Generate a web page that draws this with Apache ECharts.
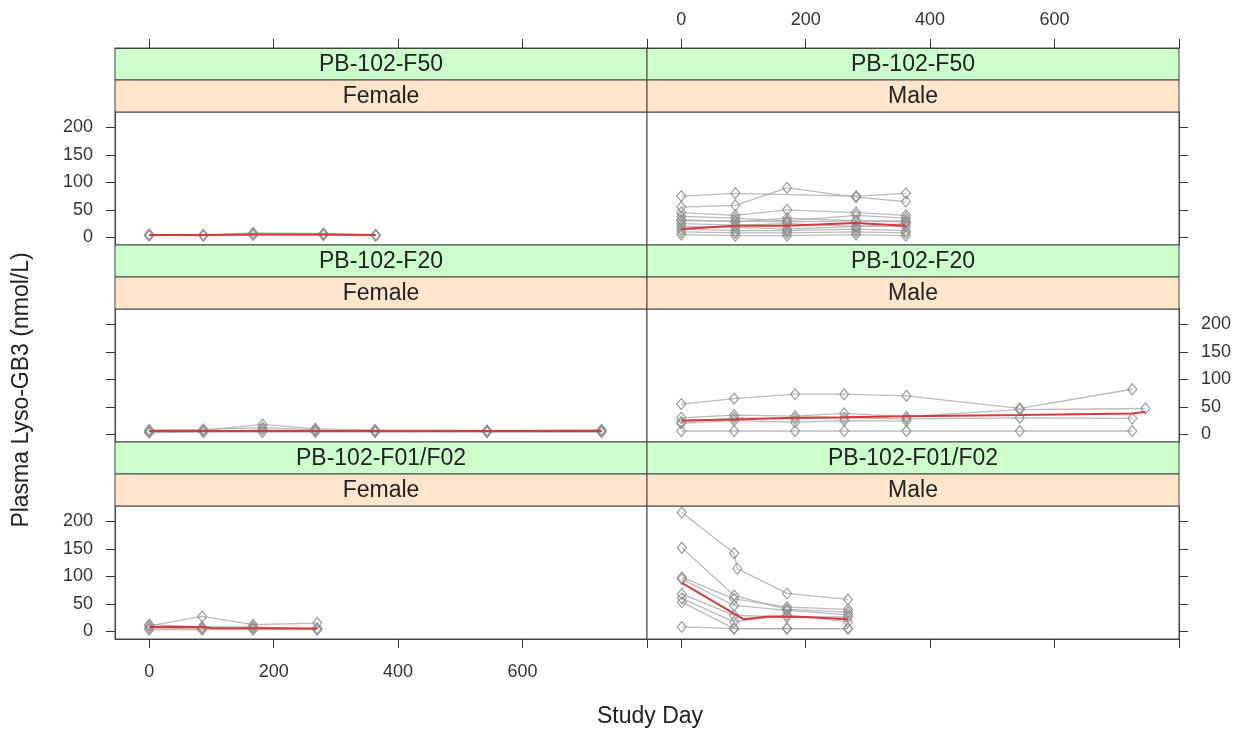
<!DOCTYPE html>
<html lang="en">
<head>
    <meta charset="UTF-8">
    <script src="https://cdn.jsdelivr.net/npm/echarts@6/dist/echarts.min.js"></script>
    <title>Plasma Lyso-GB3 by study and sex</title>
</head>
<body style="margin:0;background:#fff;">
<div id="main" style="width:1243px;height:736px;"></div>
<script type="text/javascript">
    // ---- data: [study day, value] per subject, plus the red mean line ----
    var f50Female = [
        [[0,5],[87,4],[167,8],[280,7],[364,4]],
        [[0,3],[87,4],[167,6],[280,5],[364,4]],
        [[0,4],[87,3],[167,4],[280,4],[364,3]]
    ];
    var f50FemaleMean = [[0,4],[87,4],[167,5],[280,5],[364,4]];

    var f50Male = [
        [[0,75],[87,80],[281,75],[361,80]],
        [[0,55],[87,58],[170,90],[281,73],[361,65]],
        [[0,45],[87,40],[170,50],[281,45],[361,40]],
        [[0,38],[87,35],[170,30],[281,40],[361,35]],
        [[0,32],[87,28],[170,35],[281,30],[361,28]],
        [[0,30],[87,30],[170,28],[281,30],[361,30]],
        [[0,25],[87,22],[170,25],[281,20],[361,25]],
        [[0,20],[87,18],[170,15],[281,20],[361,20]],
        [[0,15],[87,12],[170,12],[281,15],[361,12]],
        [[0,10],[87,8],[170,8],[281,10],[361,8]],
        [[0,5],[87,3],[170,3],[281,5],[361,3]]
    ];
    var f50MaleMean = [[0,15],[87,21],[170,21],[281,26],[361,21]];

    var f20Female = [
        [[0,6],[87,7],[182,18],[267,10],[363,8],[543,7],[727,7]],
        [[0,4],[87,5],[182,8],[267,6],[363,6],[543,5],[727,5]],
        [[0,3],[87,4],[182,4],[267,4],[363,4],[543,4],[727,4]],
        [[0,8],[87,9],[182,12],[267,8],[363,5],[543,6],[727,8]]
    ];
    var f20FemaleMean = [[0,6],[87,6],[182,6],[267,6],[363,6],[543,6],[727,6]];

    var f20Male = [
        [[0,55],[85,65],[183,73],[262,73],[362,70],[544,47],[725,82]],
        [[0,30],[85,35],[183,33],[262,38],[362,32],[544,45],[746,47]],
        [[0,22],[85,30],[183,28],[262,30],[362,28],[544,30],[725,29]],
        [[0,20],[85,25],[183,22],[262,25],[362,24]],
        [[0,6],[85,6],[183,6],[262,6],[362,6],[544,6],[725,6]]
    ];
    var f20MaleMean = [[0,25],[85,27],[183,30],[262,31],[362,33],[544,35],[725,38],[746,41]];

    var f01Female = [
        [[0,10],[85,27],[167,12],[270,15]],
        [[0,6],[85,5],[167,6],[270,5]],
        [[0,12],[85,8],[167,8],[270,4]],
        [[0,3],[85,3],[167,3],[270,3]]
    ];
    var f01FemaleMean = [[0,8],[85,8],[100,6],[270,5]];

    var f01Male = [
        [[1,216],[85,142],[90,114],[170,69],[268,58]],
        [[1,152],[85,65],[170,40],[268,35]],
        [[1,98],[85,59],[170,44],[268,40]],
        [[1,95],[85,47],[170,38],[268,30]],
        [[1,68],[85,29],[170,26],[268,26]],
        [[1,60],[85,17],[170,30],[268,17]],
        [[1,53],[85,5],[170,5],[268,5]],
        [[1,8],[85,5],[170,5],[268,5]]
    ];
    var f01MaleMean = [[1,88],[100,22],[140,27],[200,26],[268,22]];

    var studies = ['PB-102-F50', 'PB-102-F20', 'PB-102-F01/F02'];
    var sexes = ['Female', 'Male'];
    var subjectData = [[f50Female, f50Male], [f20Female, f20Male], [f01Female, f01Male]];
    var meanData = [[f50FemaleMean, f50MaleMean], [f20FemaleMean, f20MaleMean], [f01FemaleMean, f01MaleMean]];
    var xTicks = [0, 200, 400, 600, 800];
    var xLabels = [0, 200, 400, 600];
    var yTicks = [0, 50, 100, 150, 200];

    // ---- layout ----
    var colLeft = [115, 647];
    var panelW = 532;
    var rowTop = [112, 309, 506];
    var panelH = 133;
    var stripH = 32;
    var font = '"Liberation Sans", Arial, sans-serif';
    var lineCol = '#444';

    var chart = echarts.init(document.getElementById('main'));
    var grids = [], xAxes = [], yAxes = [], series = [], graphics = [];

    for (var r = 0; r < 3; r++) {
        for (var c = 0; c < 2; c++) {
            var g = grids.length;
            grids.push({left: colLeft[c], top: rowTop[r], width: panelW, height: panelH,
                show: true, borderColor: lineCol, borderWidth: 1, backgroundColor: '#fff'});

            var xi = xAxes.length;
            xAxes.push({
                type: 'value', gridIndex: g, position: 'bottom', min: -55, max: 800,
                show: r === 2,
                axisLine: {show: true, onZero: false, lineStyle: {color: lineCol}},
                axisTick: {show: true, length: 9, customValues: xTicks, lineStyle: {color: '#333'}},
                axisLabel: {show: c === 0, customValues: xLabels, margin: 24,
                    fontFamily: font, fontSize: 18, color: '#333'},
                splitLine: {show: false}
            });
            if (r === 0) {
                xAxes.push({
                    type: 'value', gridIndex: g, position: 'top', offset: stripH * 2, min: -55, max: 800,
                    axisLine: {show: true, onZero: false, lineStyle: {color: lineCol}},
                    axisTick: {show: true, length: 9, customValues: xTicks, lineStyle: {color: '#333'}},
                    axisLabel: {show: c === 1, customValues: xLabels, margin: 19,
                        fontFamily: font, fontSize: 18, color: '#333'},
                    splitLine: {show: false}
                });
            }
            var yi = yAxes.length;
            yAxes.push({
                type: 'value', gridIndex: g, position: c === 0 ? 'left' : 'right', min: -14, max: 228,
                axisLine: {show: true, onZero: false, lineStyle: {color: lineCol}},
                axisTick: {show: true, length: 9, customValues: yTicks, lineStyle: {color: '#333'}},
                axisLabel: {show: (c === 0 && r !== 1) || (c === 1 && r === 1), customValues: yTicks,
                    margin: 22, fontFamily: font, fontSize: 18, color: '#333'},
                splitLine: {show: false}
            });

            subjectData[r][c].forEach(function (pts) {
                series.push({
                    type: 'line', xAxisIndex: xi, yAxisIndex: yi, data: pts,
                    symbol: 'diamond', symbolSize: [9, 11], showSymbol: true,
                    lineStyle: {color: 'rgba(170,170,170,0.8)', width: 1.3},
                    itemStyle: {color: 'rgba(255,255,255,0)', borderColor: 'rgba(140,140,140,0.85)', borderWidth: 1.2},
                    emphasis: {disabled: true}, z: 2
                });
            });
            series.push({
                type: 'line', xAxisIndex: xi, yAxisIndex: yi, data: meanData[r][c],
                symbol: 'none', lineStyle: {color: '#d43a3a', width: 2},
                emphasis: {disabled: true}, z: 3
            });

            // strips: study on top (green), sex below (orange)
            var sTop = rowTop[r] - stripH * 2;
            graphics.push({type: 'rect', shape: {x: colLeft[c], y: sTop, width: panelW, height: stripH},
                style: {fill: '#ccffcc', stroke: lineCol, lineWidth: 1}});
            graphics.push({type: 'text', x: colLeft[c] + panelW / 2, y: sTop + stripH / 2 + 1,
                style: {text: studies[r], fill: '#222', font: '23px ' + font, textAlign: 'center', textVerticalAlign: 'middle'}});
            graphics.push({type: 'rect', shape: {x: colLeft[c], y: sTop + stripH, width: panelW, height: stripH},
                style: {fill: '#ffe5cc', stroke: lineCol, lineWidth: 1}});
            graphics.push({type: 'text', x: colLeft[c] + panelW / 2, y: sTop + stripH * 1.5 + 1,
                style: {text: sexes[c], fill: '#222', font: '23px ' + font, textAlign: 'center', textVerticalAlign: 'middle'}});
        }
    }

    graphics.push({type: 'text', x: 650, y: 717,
        style: {text: 'Study Day', fill: '#222', font: '23px ' + font, textAlign: 'center', textVerticalAlign: 'middle'}});
    graphics.push({type: 'text', x: 22, y: 390, rotation: Math.PI / 2,
        style: {text: 'Plasma Lyso-GB3 (nmol/L)', fill: '#222', font: '23px ' + font, textAlign: 'center', textVerticalAlign: 'middle'}});

    chart.setOption({
        animation: false,
        backgroundColor: '#fff',
        grid: grids,
        xAxis: xAxes,
        yAxis: yAxes,
        series: series,
        graphic: graphics
    });
</script>
</body>
</html>
